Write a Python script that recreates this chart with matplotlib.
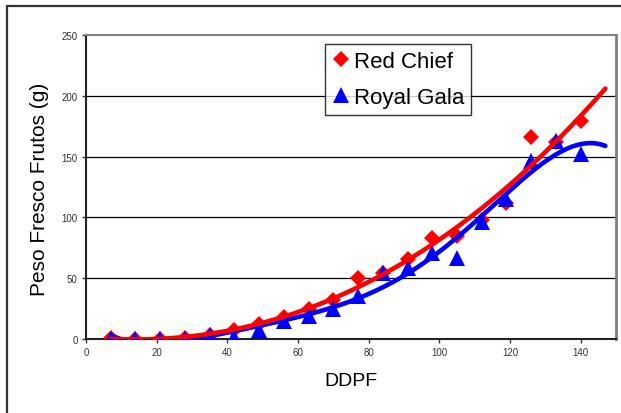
import numpy as np
import matplotlib.pyplot as plt
from matplotlib.patches import Rectangle

plt.rcParams['font.family'] = ['Liberation Sans', 'DejaVu Sans']

# days after full bloom
ddpf = [7, 14, 21, 28, 35, 42, 49, 56, 63, 70, 77, 84, 91, 98, 105, 112, 119, 126, 133, 140]
red_chief = [1, 0, 0, 1, 3, 7, 12, 18, 25, 32, 50, 54, 66, 83, 85, 98, 112, 166, 162, 179]
royal_gala = [0, 0, 0, 0, 3, 2, 7, 15, 19, 25, 35, 54, 58, 71, 67, 96, 115, 146, 163, 152]

x_ticks = [0, 20, 40, 60, 80, 100, 120, 140]
y_ticks = [0, 50, 100, 150, 200, 250]

fig = plt.figure(figsize=(6.21, 4.14), dpi=100)
ax = fig.add_axes([86 / 621, 1 - 340 / 414, 530 / 621, 304 / 414])

# outer chart frame (only left/top edges fall inside the image)
fig.patches.append(Rectangle((7 / 621, -0.05), 1.2, 1 - 7 / 414 + 0.05,
                             transform=fig.transFigure, fill=False,
                             edgecolor='#333333', lw=1.6))

ax.set_xlim(0, 150)
ax.set_ylim(0, 250)
ax.set_xticks(x_ticks)
ax.set_yticks(y_ticks)
ax.tick_params(axis='both', direction='out', length=3, width=1, labelsize=7,
               labelcolor='#333333', color='#333333', pad=3)

for yv in y_ticks[1:-1]:
    ax.axhline(yv, color='black', lw=0.9, zorder=1)

ax.spines['left'].set_color('#222222')
ax.spines['left'].set_linewidth(1.5)
ax.spines['bottom'].set_color('#222222')
ax.spines['bottom'].set_linewidth(1.5)
ax.spines['top'].set_color('#808080')
ax.spines['top'].set_linewidth(1.5)
ax.spines['right'].set_color('#808080')
ax.spines['right'].set_linewidth(2)

# polynomial trendlines, extended a bit beyond the last sample
xs = np.linspace(ddpf[0], 147, 300)
red_fit = np.polyval(np.polyfit(ddpf, red_chief, 3), xs)
gala_fit = np.polyval(np.polyfit(ddpf, royal_gala, 5), xs)

ax.plot(ddpf, red_chief, 'D', color='#ff0000', ms=8.5, mew=0,
        label='Red Chief', zorder=3)
ax.plot(ddpf, royal_gala, '^', color='#0000ff', ms=11, mew=0,
        label='Royal Gala', zorder=4)
ax.plot(xs, gala_fit, color='#0000ff', lw=3.3, zorder=5, solid_capstyle='round')
ax.plot(xs, red_fit, color='#ff0000', lw=3.3, zorder=6, solid_capstyle='round')

leg = ax.legend(loc='upper left', bbox_to_anchor=(325 / 621, 1 - 45 / 414),
                bbox_transform=fig.transFigure, fontsize=16, frameon=True,
                fancybox=False, handlelength=0.8, handletextpad=0.2,
                borderpad=0.3, labelspacing=0.7, borderaxespad=0)
leg.get_frame().set_edgecolor('black')
leg.get_frame().set_linewidth(1)
leg.set_zorder(10)

fig.text(40 / 621, 1 - 189 / 414, 'Peso Fresco Frutos (g)', rotation=90,
         ha='center', va='center', fontsize=15)
fig.text(351 / 621, 1 - 382 / 414, 'DDPF', ha='center', va='center', fontsize=14)

fig.savefig('out.png', dpi=100)
